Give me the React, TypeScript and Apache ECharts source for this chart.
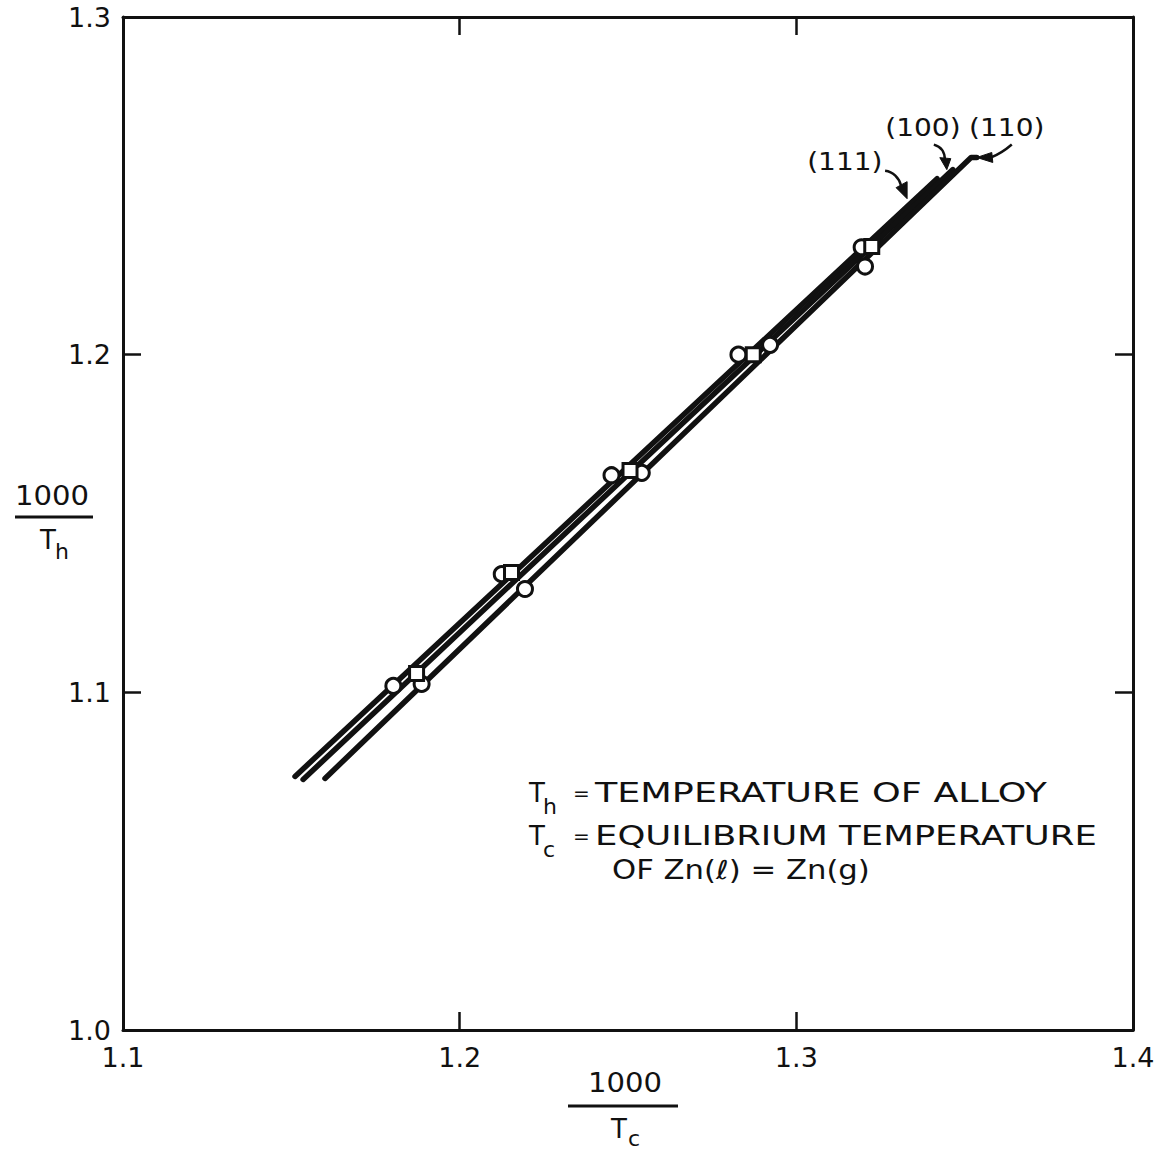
import React, { useEffect, useRef } from "react";
import * as echarts from "echarts";

// ---- axis ticks ----
const xTickValues = [1.1, 1.2, 1.3, 1.4];
const yTickValues = [1.0, 1.1, 1.2, 1.3];

// ---- fitted lines (1000/Tc, 1000/Th) ----
const line111X = [1.1511, 1.3418];
const line111Y = [1.0751, 1.2521];
const line100X = [1.1535, 1.3465];
const line100Y = [1.0742, 1.2548];
const line110X = [1.16, 1.3519, 1.3536];
const line110Y = [1.0745, 1.2584, 1.2584];

// ---- data points ----
const circlesAX = [1.1803, 1.2125, 1.2451, 1.2828, 1.3194];
const circlesAY = [1.1019, 1.135, 1.1643, 1.2, 1.2318];
const squaresX = [1.1872, 1.2154, 1.2506, 1.2872, 1.3224];
const squaresY = [1.1056, 1.1355, 1.1657, 1.2, 1.232];
const circlesBX = [1.1887, 1.2194, 1.2541, 1.2922, 1.3204];
const circlesBY = [1.1025, 1.1306, 1.165, 1.2029, 1.2261];

// ---- plane annotations ----
const planeLabels = ["(111)", "(100)", "(110)"];
const planeLabelX = [1.3144, 1.3376, 1.3625];
const planeLabelY = [1.2572, 1.2675, 1.2675];
const arrowTipX = [1.3329, 1.3447, 1.3536];
const arrowTipY = [1.2462, 1.2548, 1.2584];

const legendLines = [
  "TEMPERATURE OF ALLOY",
  "EQUILIBRIUM TEMPERATURE",
  "OF Zn(ℓ) = Zn(g)",
];

const FONT = "DejaVu Sans";

function zip(xs: number[], ys: number[]) {
  return xs.map((x, i) => [x, ys[i]]);
}

function measure(text: string, size: number) {
  const c = document.createElement("canvas").getContext("2d")!;
  c.font = `${size}px "${FONT}"`;
  return c.measureText(text).width;
}

export default function App() {
  const ref = useRef<HTMLDivElement>(null);
  useEffect(() => {
    const chart = echarts.init(ref.current!, null, { renderer: "svg" });
    const black = "#111";
    const tick = { show: true, inside: true, length: 18, lineStyle: { color: black, width: 2.5 } };
    const line = { show: true, lineStyle: { color: black, width: 3 } };
    const label = {
      color: black,
      fontSize: 27,
      lineHeight: 27,
      fontFamily: FONT,
      formatter: (v: number) => v.toFixed(1),
    };
    const marker = { color: "#fff", borderColor: black, borderWidth: 3, opacity: 1 };
    chart.setOption({
      animation: false,
      backgroundColor: "#fff",
      grid: { left: 123, right: 27, top: 17, bottom: 119 },
      xAxis: [
        {
          type: "value", min: 1.1, max: 1.4, interval: 0.1, position: "bottom",
          axisLine: line, axisTick: tick, splitLine: { show: false },
          axisLabel: { ...label, margin: 14 },
        },
        {
          type: "value", min: 1.1, max: 1.4, interval: 0.1, position: "top",
          axisLine: line, axisTick: tick, splitLine: { show: false },
          axisLabel: { show: false },
        },
      ],
      yAxis: [
        {
          type: "value", min: 1.0, max: 1.3, interval: 0.1, position: "left",
          axisLine: line, axisTick: tick, splitLine: { show: false },
          axisLabel: { ...label, margin: 12 },
        },
        {
          type: "value", min: 1.0, max: 1.3, interval: 0.1, position: "right",
          axisLine: line, axisTick: tick, splitLine: { show: false },
          axisLabel: { show: false },
        },
      ],
      series: [
        ...[
          zip(line111X, line111Y),
          zip(line100X, line100Y),
          zip(line110X, line110Y),
        ].map((d) => ({
          type: "line",
          data: d,
          symbol: "none",
          z: 2,
          lineStyle: { color: black, width: 5.5, cap: "round", join: "round" },
        })),
        {
          type: "scatter", data: zip(circlesAX, circlesAY), symbol: "circle", symbolSize: 15, z: 3,
          itemStyle: marker,
        },
        {
          type: "scatter", data: zip(circlesBX, circlesBY), symbol: "circle", symbolSize: 15, z: 3,
          itemStyle: marker,
        },
        {
          type: "scatter", data: zip(squaresX, squaresY), symbol: "rect", symbolSize: 14, z: 4,
          itemStyle: marker,
        },
      ],
    });

    const P = (x: number, y: number) =>
      chart.convertToPixel({ gridIndex: 0 }, [x, y]) as number[];

    const g: any[] = [];
    const txt = (text: string, x: number, y: number, size: number, align = "left", scaleX = 1) =>
      g.push({
        type: "text", x, y, scaleX, z: 10,
        style: { text, fill: black, fontSize: size, fontFamily: FONT, align, verticalAlign: "middle" },
      });

    // plane labels
    planeLabels.forEach((t, i) => {
      const [px, py] = P(planeLabelX[i], planeLabelY[i]);
      txt(t, px, py, 25, "center", 1.12);
    });

    // arrows (curve offsets relative to tip, in px)
    const curves = [
      { c: [-22, -28, -14, -27, -8, -21, -6, -13], head: [[0, 0], [-11, -11], [0, -17]] },
      { c: [-13, -25, -6, -23, -2, -18, -2, -10], head: [[0, 0], [-7, -12], [4, -11]] },
      { c: [35, -13, 28, -7, 22, -3, 14, 0], head: [[0, 0], [15, -5], [16, 5]] },
    ];
    curves.forEach((a, i) => {
      const [tx, ty] = P(arrowTipX[i], arrowTipY[i]);
      const c = a.c;
      g.push({
        type: "bezierCurve", z: 10,
        shape: {
          x1: tx + c[0], y1: ty + c[1], cpx1: tx + c[2], cpy1: ty + c[3],
          cpx2: tx + c[4], cpy2: ty + c[5], x2: tx + c[6], y2: ty + c[7],
        },
        style: { stroke: black, lineWidth: 2.5, fill: null },
      });
      g.push({
        type: "polygon", z: 10,
        shape: { points: a.head.map(([dx, dy]) => [tx + dx, ty + dy]) },
        style: { fill: black, stroke: black, lineWidth: 1 },
      });
    });

    // legend text block
    const lsz = 26;
    const fit = (t: string, w: number) => w / measure(t, lsz);
    txt("T", 529, 793, lsz);
    txt("h", 543, 806, 22);
    txt("=", 573, 793, 20);
    txt(legendLines[0], 595, 793, lsz, "left", fit(legendLines[0], 452));
    txt("T", 529, 836, lsz);
    txt("c", 543, 849, 22);
    txt("=", 573, 836, 20);
    txt(legendLines[1], 595, 836, lsz, "left", fit(legendLines[1], 502));
    txt(legendLines[2], 612, 870, lsz, "left", fit(legendLines[2], 258));

    // axis names as fractions
    txt("1000", 52, 496, 26, "center", 1.12);
    g.push({ type: "line", shape: { x1: 15, y1: 517, x2: 93, y2: 517 }, style: { stroke: black, lineWidth: 3 } });
    txt("T", 48, 540, 26, "center");
    txt("h", 62, 551, 22, "center");

    txt("1000", 625, 1083, 26, "center", 1.12);
    g.push({ type: "line", shape: { x1: 568, y1: 1106, x2: 678, y2: 1106 }, style: { stroke: black, lineWidth: 3 } });
    txt("T", 619, 1129, 26, "center");
    txt("c", 634, 1138, 22, "center");

    chart.setOption({ graphic: g });
    return () => chart.dispose();
  }, []);
  return (
    <div
      ref={ref}
      style={{ position: "absolute", left: 0, top: 0, width: 1160, height: 1149, background: "#fff" }}
    />
  );
}
